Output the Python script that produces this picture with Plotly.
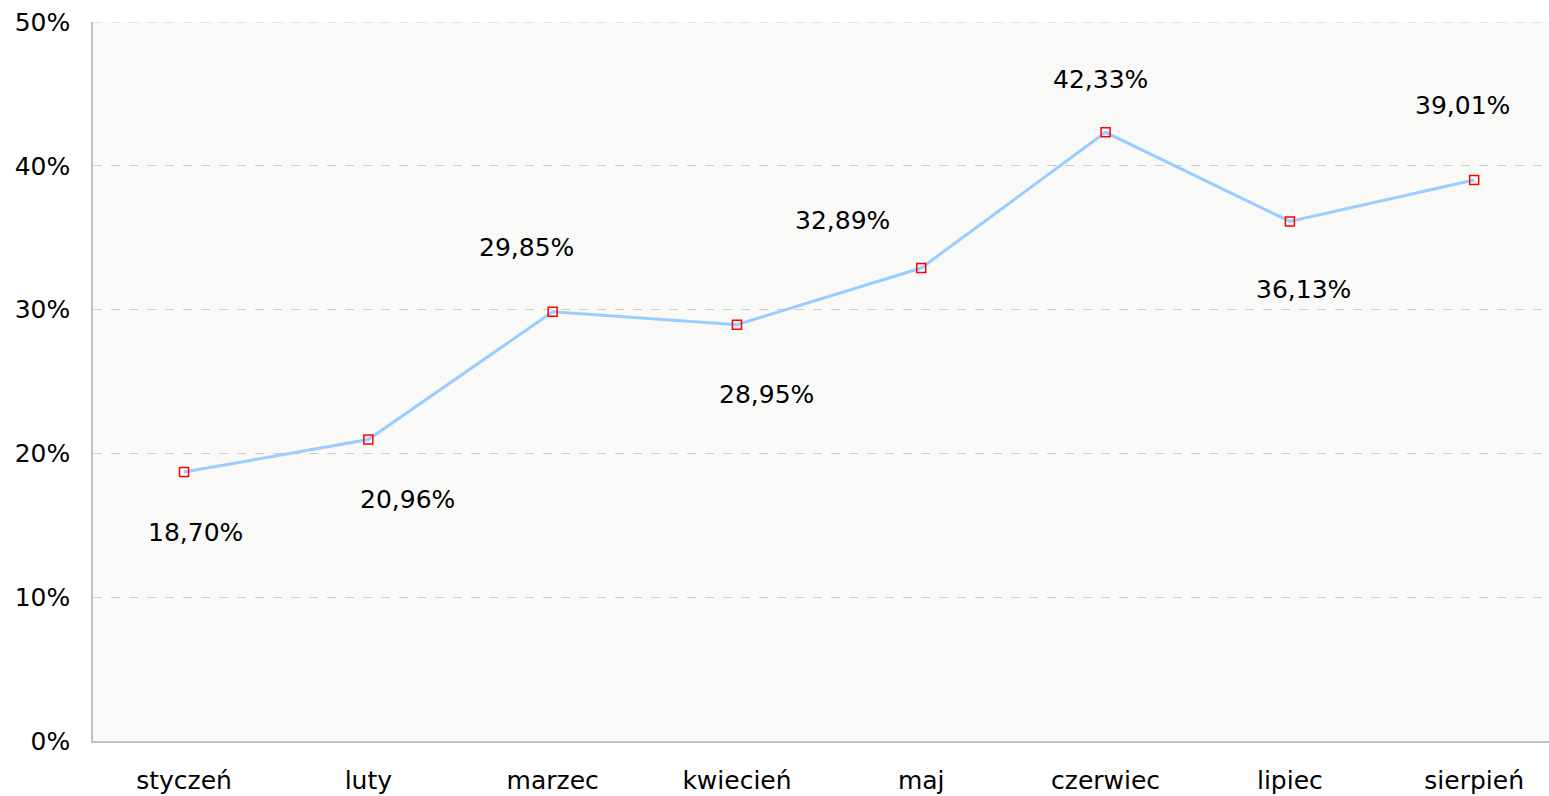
import plotly.graph_objects as go

months = ["styczeń", "luty", "marzec", "kwiecień", "maj", "czerwiec", "lipiec", "sierpień"]
values = [18.70, 20.96, 29.85, 28.95, 32.89, 42.33, 36.13, 39.01]
labels = ["18,70%", "20,96%", "29,85%", "28,95%", "32,89%", "42,33%", "36,13%", "39,01%"]
y_ticks = [0, 10, 20, 30, 40, 50]
y_tick_text = ["0%", "10%", "20%", "30%", "40%", "50%"]

# label placement offsets in pixels (style)
label_dx = [11, 39, -26, 30, -79, -5, 14, -12]
label_dy = [-60, -60, 64, -70, 48, 53, -68, 75]

FONT = "DejaVu Sans, Verdana, sans-serif"

fig = go.Figure()
fig.add_trace(go.Scatter(
    x=months, y=values, mode="lines+markers",
    line=dict(color="#99ccff", width=3),
    marker=dict(symbol="square", size=9, color="rgba(255,255,255,0)",
                line=dict(color="#ff0000", width=1.5)),
    hoverinfo="skip", showlegend=False,
))

for m, v, t, dx, dy in zip(months, values, labels, label_dx, label_dy):
    fig.add_annotation(x=m, y=v, text=t, showarrow=False, xshift=dx, yshift=dy,
                       font=dict(family=FONT, size=25, color="#000000"))

# dashed top grid line at the upper edge of the plot area
fig.add_shape(type="line", xref="paper", x0=0, x1=1, yref="y", y0=y_ticks[-1], y1=y_ticks[-1],
              line=dict(color="#cccccc", width=1, dash="dash"), layer="below")

fig.update_layout(
    width=1549, height=796,
    margin=dict(l=93, r=0, t=22, b=55),
    paper_bgcolor="#ffffff", plot_bgcolor="#f9f9f8",
    font=dict(family=FONT, size=25, color="#000000"),
    xaxis=dict(range=[-0.494, 7.406], showgrid=False, zeroline=False,
               showline=True, linecolor="#c0c0c0", linewidth=1.5,
               ticks="", ticklabelstandoff=16, tickfont=dict(size=25)),
    yaxis=dict(range=[0, 50], tickvals=y_ticks, ticktext=y_tick_text,
               showgrid=True, gridcolor="#cccccc", griddash="dash", gridwidth=1,
               zeroline=False, showline=True, linecolor="#c0c0c0", linewidth=1.5,
               ticks="", ticklabelstandoff=16, tickfont=dict(size=25)),
)

fig.write_html("out.html", config={"displayModeBar": False},
               post_script="document.body.style.margin='0';document.body.style.overflow='hidden';")
